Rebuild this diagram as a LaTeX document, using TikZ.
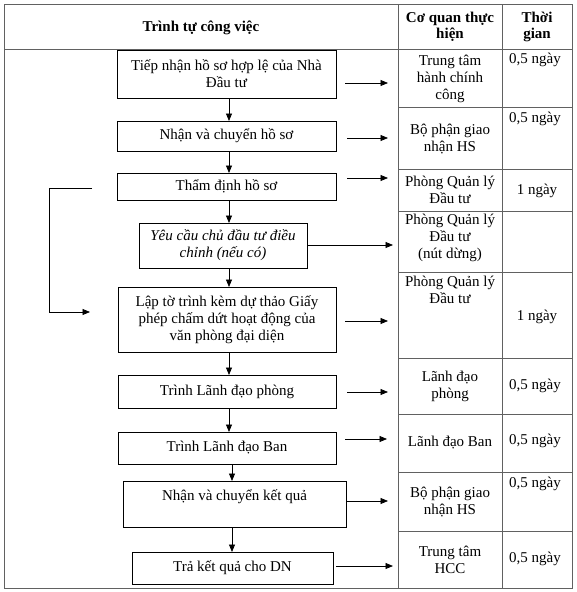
\documentclass[tikz,border=0pt]{standalone}
\usepackage{fontspec}
\setmainfont{Liberation Serif}
\usetikzlibrary{arrows.meta}
\newcommand{\rnode}[7]{\node[#6, minimum width={(#4-#2)*1pt}, minimum height={(#5-#3)*1pt}] (#1) at ({(#2+#4)/2},{(#3+#5)/2}) {#7};}
\begin{document}
\begin{tikzpicture}[x=1pt,y=-1pt,
  txt/.style={font=\fontsize{15}{17}\selectfont, align=center, inner sep=0pt},
  hdr/.style={font=\fontsize{15}{16}\selectfont\bfseries, align=center, inner sep=0pt},
  box/.style={draw=black, line width=0.8pt, inner sep=0pt, outer sep=0pt, align=center, font=\fontsize{15}{17}\selectfont},
  cell/.style={draw=black!62, line width=0.9pt, inner sep=0pt, outer sep=0pt},
  arr/.style={line width=0.8pt, -{Triangle[length=7.5pt,width=6pt]}},
  harr/.style 2 args={arr, shorten <=#1, shorten >=#2}]
\useasboundingbox (0,0) rectangle (576,592);
\fill[white] (0,0) rectangle (576,592);

% table grid
\rnode{h1}{4}{4}{398}{49}{cell}{}
\rnode{h2}{398}{4}{502}{49}{cell}{}
\rnode{h3}{502}{4}{572}{49}{cell}{}
\rnode{body}{4}{49}{398}{588}{cell}{}
\rnode{c1}{398}{49}{502}{107}{cell}{}
\rnode{c2}{398}{107}{502}{169}{cell}{}
\rnode{c3}{398}{169}{502}{211}{cell}{}
\rnode{c4}{398}{211}{502}{272}{cell}{}
\rnode{c5}{398}{272}{502}{358}{cell}{}
\rnode{c6}{398}{358}{502}{414}{cell}{}
\rnode{c7}{398}{414}{502}{472}{cell}{}
\rnode{c8}{398}{472}{502}{531}{cell}{}
\rnode{c9}{398}{531}{502}{588}{cell}{}
\rnode{t1}{502}{49}{572}{107}{cell}{}
\rnode{t2}{502}{107}{572}{169}{cell}{}
\rnode{t3}{502}{169}{572}{211}{cell}{}
\rnode{t4}{502}{211}{572}{272}{cell}{}
\rnode{t5}{502}{272}{572}{358}{cell}{}
\rnode{t6}{502}{358}{572}{414}{cell}{}
\rnode{t7}{502}{414}{572}{472}{cell}{}
\rnode{t8}{502}{472}{572}{531}{cell}{}
\rnode{t9}{502}{531}{572}{588}{cell}{}

% header texts
\node[hdr] (ht1) at (201,28) {Trình tự công việc};
\node[hdr] (ht2) at (450,27) {Cơ quan thực\\hiện};
\node[hdr] (ht3) at (537,27) {Thời\\gian};

% agency texts
\node[txt] (n1) at (450,79) {Trung tâm\\hành chính\\công};
\node[txt] (n2) at (450,139.5) {Bộ phận giao\\nhận HS};
\node[txt] (n3) at (450,190) {Phòng Quản lý\\Đầu tư};
\node[txt] (n4) at (450,238) {Phòng Quản lý\\Đầu tư\\(nút dừng)};
\node[txt] (n5) at (450,289.5) {Phòng Quản lý\\Đầu tư};
\node[txt] (n6) at (450,386) {Lãnh đạo\\phòng};
\node[txt] (n7) at (450,443) {Lãnh đạo Ban};
\node[txt] (n8) at (450,502) {Bộ phận giao\\nhận HS};
\node[txt] (n9) at (450,560) {Trung tâm\\HCC};

% time texts
\node[txt] (m1) at (535,60) {0,5 ngày};
\node[txt] (m2) at (535,119) {0,5 ngày};
\node[txt] (m3) at (537,191) {1 ngày};
\node[txt] (m5) at (537,317) {1 ngày};
\node[txt] (m6) at (535,386) {0,5 ngày};
\node[txt] (m7) at (535,441) {0,5 ngày};
\node[txt] (m8) at (535,484) {0,5 ngày};
\node[txt] (m9) at (535,559) {0,5 ngày};

% process boxes
\rnode{b1}{117}{50}{336}{98}{box}{Tiếp nhận hồ sơ hợp lệ của Nhà\\Đầu tư}
\rnode{b2}{117}{121}{336}{151}{box}{Nhận và chuyển hồ sơ}
\rnode{b3}{117}{173}{336}{200}{box}{Thẩm định hồ sơ}
\rnode{b4}{139}{223}{307}{268}{box}{\itshape Yêu cầu chủ đầu tư điều\\\itshape chỉnh (nếu có)}
\rnode{b5}{118}{287}{336}{352}{box}{Lập tờ trình kèm dự thảo Giấy\\phép chấm dứt hoạt động của\\văn phòng đại diện}
\rnode{b6}{118}{375}{336}{408}{box}{Trình Lãnh đạo phòng}
\rnode{b7}{118}{432}{336}{464}{box}{Trình Lãnh đạo Ban}
\rnode{b8}{123}{481}{346}{527}{box}{Nhận và chuyển kết quả\\\mbox{}}
\rnode{b9}{132}{552}{333}{584}{box}{Trả kết quả cho DN}

% vertical flow
\coordinate (ax1) at (229,0);
\coordinate (ax2) at (232,0);
\draw[arr] (b1.south -| ax1) -- (b2.north -| ax1);
\draw[arr] (b2.south -| ax1) -- (b3.north -| ax1);
\draw[arr] (b3.south -| ax1) -- (b4.north -| ax1);
\draw[arr] (b4.south -| ax1) -- (b5.north -| ax1);
\draw[arr] (b5.south -| ax1) -- (b6.north -| ax1);
\draw[arr] (b6.south -| ax1) -- (b7.north -| ax1);
\draw[arr] (b7.south -| ax2) -- (b8.north -| ax2);
\draw[arr] (b8.south -| ax2) -- (b9.north -| ax2);

% horizontal arrows to agencies
\draw[harr={9pt}{10pt}] (b1.east |- 0,83) -- (c1.west |- 0,83);
\draw[harr={11pt}{10pt}] (b2.east |- 0,138) -- (c2.west |- 0,138);
\draw[harr={11pt}{10pt}] (b3.east |- 0,178) -- (c3.west |- 0,178);
\draw[harr={0pt}{5pt}] (b4.east |- 0,245) -- (c4.west |- 0,245);
\draw[harr={9pt}{10pt}] (b5.east |- 0,321) -- (c5.west |- 0,321);
\draw[harr={11pt}{10pt}] (b6.east |- 0,392) -- (c6.west |- 0,392);
\draw[harr={9pt}{11pt}] (b7.east |- 0,439) -- (c7.west |- 0,439);
\draw[harr={1pt}{10pt}] (b8.east |- 0,501) -- (c8.west |- 0,501);
\draw[harr={3pt}{5pt}] (b9.east |- 0,566) -- (c9.west |- 0,566);

% feedback loop
\coordinate (fbS) at (92,188);
\coordinate (fbE) at (90,312);
\draw[arr] (fbS) -- ++(-43,0) |- (fbE);
\end{tikzpicture}
\end{document}
